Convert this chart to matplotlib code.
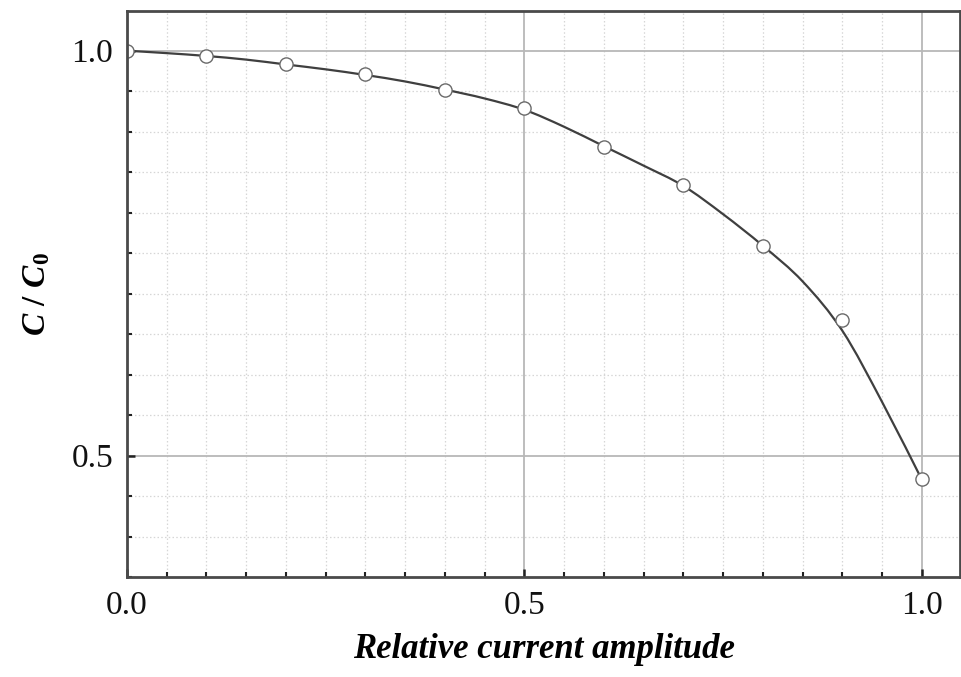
import matplotlib
matplotlib.use("Agg")
import matplotlib.pyplot as plt
from matplotlib.path import Path
from matplotlib.patches import PathPatch
from matplotlib.ticker import MultipleLocator, FixedLocator, FixedFormatter

plt.rcParams['font.family'] = ['Liberation Serif', 'DejaVu Serif']
plt.rcParams['mathtext.fontset'] = 'custom'
plt.rcParams['mathtext.it'] = 'Liberation Serif:italic:bold'
plt.rcParams['mathtext.bf'] = 'Liberation Serif:bold'
plt.rcParams['mathtext.rm'] = 'Liberation Serif:bold'

# measured points (markers)
point_x = [0.0, 0.1, 0.2, 0.3, 0.4, 0.5, 0.6, 0.7, 0.8, 0.9, 1.0]
point_y = [1.000, 0.9935, 0.983, 0.971, 0.952, 0.929, 0.881, 0.834, 0.759, 0.667, 0.471]

# fitted curve
curve_x = [0.00, 0.05, 0.10, 0.15, 0.20, 0.25, 0.30, 0.35, 0.40, 0.45, 0.50,
           0.55, 0.60, 0.65, 0.70, 0.75, 0.80, 0.85, 0.90, 0.95, 1.00]
curve_y = [1.000, 0.997, 0.9935, 0.989, 0.983, 0.977, 0.970, 0.962, 0.952, 0.941, 0.927,
           0.906, 0.882, 0.858, 0.833, 0.798, 0.759, 0.715, 0.654, 0.566, 0.470]

x_major = [0.0, 0.5, 1.0]
x_labels = ["0.0", "0.5", "1.0"]
y_major = [0.5, 1.0]
y_labels = ["0.5", "1.0"]

fig = plt.figure(figsize=(9.62, 6.77), dpi=100)
ax = fig.add_axes([0.132, 0.1477, 0.866, 0.836])

ax.set_xlim(0.0, 1.048)
ax.set_ylim(0.35, 1.049)

ax.xaxis.set_major_locator(FixedLocator(x_major))
ax.xaxis.set_major_formatter(FixedFormatter(x_labels))
ax.yaxis.set_major_locator(FixedLocator(y_major))
ax.yaxis.set_major_formatter(FixedFormatter(y_labels))
ax.xaxis.set_minor_locator(MultipleLocator(0.05))
ax.yaxis.set_minor_locator(MultipleLocator(0.05))

ax.grid(which='minor', color='#d6d6d6', linestyle=(0, (1.2, 1.8)), linewidth=0.9, zorder=0)
ax.grid(which='major', color='#b8b8b8', linestyle='-', linewidth=1.3, zorder=0)

# smooth curve drawn as cubic Bezier segments through the read curve values
pts = list(zip(curve_x, curve_y))
n = len(pts)
verts = [pts[0]]
codes = [Path.MOVETO]
for i in range(n - 1):
    p0 = pts[i - 1] if i > 0 else pts[i]
    p1 = pts[i]
    p2 = pts[i + 1]
    p3 = pts[i + 2] if i + 2 < n else pts[i + 1]
    c1 = (p1[0] + (p2[0] - p0[0]) / 6.0, p1[1] + (p2[1] - p0[1]) / 6.0)
    c2 = (p2[0] - (p3[0] - p1[0]) / 6.0, p2[1] - (p3[1] - p1[1]) / 6.0)
    verts += [c1, c2, p2]
    codes += [Path.CURVE4, Path.CURVE4, Path.CURVE4]
ax.add_patch(PathPatch(Path(verts, codes), facecolor='none', edgecolor='#3f3f3f',
                       linewidth=1.6, zorder=3, capstyle='round', joinstyle='round'))

ax.plot(point_x, point_y, linestyle='none', marker='o', markersize=9.5,
        markerfacecolor='white', markeredgecolor='#6a6a6a', markeredgewidth=1.0,
        zorder=4, clip_on=True)

for s in ax.spines.values():
    s.set_linewidth(2.0)
    s.set_color('#4a4a4a')
    s.set_zorder(5)

ax.tick_params(which='both', direction='in', top=False, right=False, color='#222222')
ax.tick_params(which='major', length=6, width=1.8, labelsize=24, pad=10, labelcolor='#111111')
ax.tick_params(which='minor', length=3.5, width=1.5)

ax.set_xlabel('Relative current amplitude', fontsize=25, fontweight='bold',
              fontstyle='italic', labelpad=8)
ax.set_ylabel(r'$\mathit{C\ /\ C}_{\mathbf{0}}$', fontsize=24, labelpad=14)

fig.savefig('out.png', dpi=100)
